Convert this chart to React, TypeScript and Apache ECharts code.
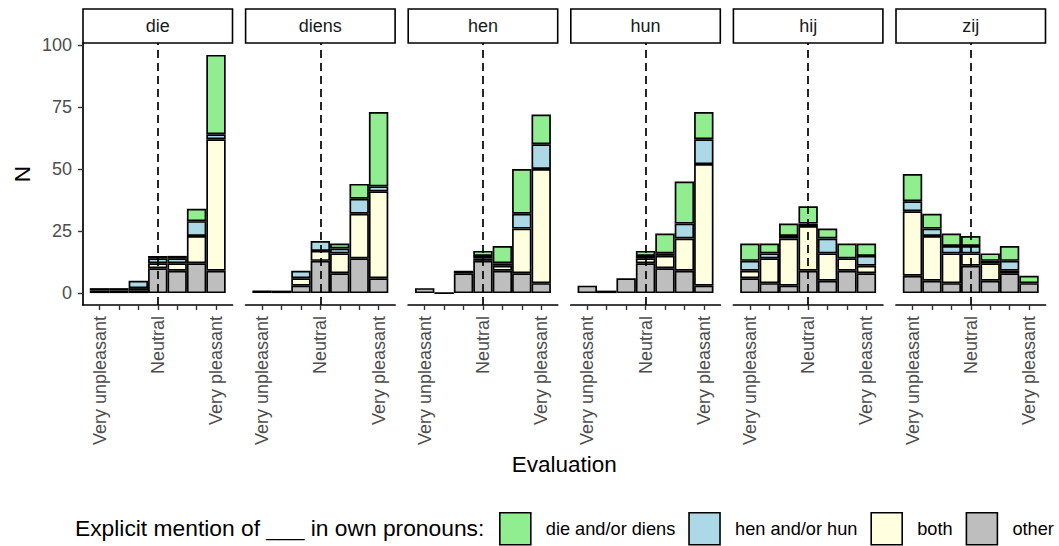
import React, { useEffect, useRef } from 'react';
import * as echarts from 'echarts';

// ---------- data ----------
const pronouns = ['die', 'diens', 'hen', 'hun', 'hij', 'zij'];
const evaluationLevels = [1, 2, 3, 4, 5, 6, 7];
const tickLabelByLevel: Record<number, string> = { 1: 'Very unpleasant', 4: 'Neutral', 7: 'Very pleasant' };
const labeledLevels = [1, 4, 7];
const neutralLevel = 4;
const yTicks = [0, 25, 50, 75, 100];

// stack order bottom -> top
const groupNames = ['other', 'both', 'hen and/or hun', 'die and/or diens'];
const legendOrder = ['die and/or diens', 'hen and/or hun', 'both', 'other'];
const groupColors = ['#BEBEBE', '#FFFFE0', '#ADD8E6', '#90EE90'];

// rows: die, diens, hen, hun, hij, zij ; columns: evaluation 1..7
const otherCounts = [
  [1, 1, 1, 10, 9, 12, 9],
  [1, 1, 3, 13, 8, 14, 6],
  [2, 0, 8, 13, 9, 8, 4],
  [3, 1, 6, 12, 10, 9, 3],
  [6, 4, 3, 9, 5, 9, 8],
  [7, 5, 4, 11, 5, 8, 4],
];
const bothCounts = [
  [0, 0, 1, 2, 3, 11, 53],
  [0, 0, 3, 4, 8, 18, 35],
  [0, 0, 0, 1, 2, 18, 46],
  [0, 0, 0, 2, 5, 13, 49],
  [3, 10, 19, 18, 11, 5, 3],
  [26, 18, 12, 5, 7, 1, 0],
];
const henHunCounts = [
  [0, 0, 3, 2, 2, 6, 2],
  [0, 0, 3, 4, 2, 6, 2],
  [0, 0, 1, 1, 1, 6, 10],
  [0, 0, 0, 1, 1, 6, 10],
  [4, 2, 1, 1, 6, 0, 4],
  [4, 3, 3, 3, 1, 4, 0],
];
const dieDiensCounts = [
  [1, 1, 0, 1, 1, 5, 32],
  [0, 0, 0, 0, 2, 6, 30],
  [0, 0, 0, 2, 7, 18, 12],
  [0, 0, 0, 2, 8, 17, 11],
  [7, 4, 5, 7, 4, 6, 5],
  [11, 6, 5, 4, 3, 6, 3],
];
const groupCounts = [otherCounts, bothCounts, henHunCounts, dieDiensCounts];

// ---------- layout ----------
const FONT = '"Liberation Sans", Arial, Helvetica, sans-serif';
const PANEL_LEFT0 = 83;
const PANEL_STEP = 162.6;
const PANEL_W = 149.5;
const PANEL_TOP = 43;
const PANEL_H = 262;
const STRIP_TOP = 9;
const STRIP_H = 34;

export default function App() {
  const ref = useRef<HTMLDivElement>(null);

  useEffect(() => {
    if (!ref.current) return;
    const chart = echarts.init(ref.current, undefined, { renderer: 'svg' });

    // ggplot-like expansion
    let maxTotal = 0;
    pronouns.forEach((_, p) => {
      evaluationLevels.forEach((_, k) => {
        const t = groupCounts.reduce((s, g) => s + g[p][k], 0);
        if (t > maxTotal) maxTotal = t;
      });
    });
    const yPad = maxTotal * 0.05;
    const xLo = evaluationLevels[0] - 0.5;
    const xHi = evaluationLevels[evaluationLevels.length - 1] + 0.5;
    const xPad = (xHi - xLo) * 0.05;

    const grids: any[] = [];
    const xAxes: any[] = [];
    const yAxes: any[] = [];
    const series: any[] = [];
    const graphics: any[] = [];

    pronouns.forEach((pr, p) => {
      const left = PANEL_LEFT0 + p * PANEL_STEP;
      grids.push({ left, top: PANEL_TOP, width: PANEL_W, height: PANEL_H, containLabel: false, outerBoundsMode: 'none' });
      xAxes.push({
        type: 'value',
        gridIndex: p,
        min: xLo - xPad,
        max: xHi + xPad,
        splitLine: { show: false },
        axisLine: { show: true, onZero: false, lineStyle: { color: '#000', width: 1.7 } },
        axisTick: { show: true, length: 5, customValues: evaluationLevels, lineStyle: { color: '#333', width: 1.4 } },
        axisLabel: {
          show: true,
          customValues: labeledLevels,
          rotate: 90,
          margin: 11,
          fontSize: 18,
          fontFamily: FONT,
          color: '#4D4D4D',
          formatter: (v: number) => tickLabelByLevel[Math.round(v)] || '',
        },
      });
      yAxes.push({
        type: 'value',
        gridIndex: p,
        min: -yPad,
        max: maxTotal + yPad,
        splitLine: { show: false },
        axisLine: { show: p === 0, onZero: false, lineStyle: { color: '#000', width: 1.7 } },
        axisTick: { show: p === 0, length: 5, customValues: yTicks, lineStyle: { color: '#333', width: 1.4 } },
        axisLabel: {
          show: p === 0,
          customValues: yTicks,
          margin: 11,
          fontSize: 18,
          fontFamily: FONT,
          color: '#4D4D4D',
        },
      });

      groupNames.forEach((gn, g) => {
        const s: any = {
          type: 'bar',
          name: gn,
          xAxisIndex: p,
          yAxisIndex: p,
          stack: 'stack' + p,
          barWidth: '100%',
          // count first so that the stack is computed on the count (y) dimension
          encode: { x: 1, y: 0 },
          itemStyle: { color: groupColors[g], borderColor: '#000', borderWidth: 1.7 },
          emphasis: { disabled: true },
          data: evaluationLevels.map((lv, k) => {
            const v = groupCounts[g][p][k];
            // a zero count at the base still draws its outline (as in the original)
            return [g > 0 && v === 0 ? null : v, lv];
          }),
        };
        if (g === groupNames.length - 1) {
          s.markLine = {
            silent: true,
            symbol: ['none', 'none'],
            label: { show: false },
            lineStyle: { color: '#000', width: 1.7, type: [8, 5] },
            data: [{ xAxis: neutralLevel }],
          };
        }
        series.push(s);
      });

      // strip
      graphics.push({
        type: 'rect',
        shape: { x: left, y: STRIP_TOP, width: PANEL_W, height: STRIP_H },
        style: { fill: '#fff', stroke: '#000', lineWidth: 1.6 },
      });
      graphics.push({
        type: 'text',
        x: left + PANEL_W / 2,
        y: STRIP_TOP + STRIP_H / 2,
        style: { text: pr, fontSize: 18, fontFamily: FONT, fill: '#1A1A1A', align: 'center', verticalAlign: 'middle' },
      });
    });

    // axis titles
    graphics.push({
      type: 'text',
      x: PANEL_LEFT0 + (5 * PANEL_STEP + PANEL_W) / 2,
      y: 464,
      style: { text: 'Evaluation', fontSize: 22.5, fontFamily: FONT, fill: '#000', align: 'center', verticalAlign: 'middle' },
    });
    graphics.push({
      type: 'text',
      x: 22,
      y: PANEL_TOP + PANEL_H / 2,
      rotation: Math.PI / 2,
      style: { text: 'N', fontSize: 22.5, fontFamily: FONT, fill: '#000', align: 'center', verticalAlign: 'middle' },
    });
    graphics.push({
      type: 'text',
      x: 75,
      y: 528,
      style: { text: 'Explicit mention of ___ in own pronouns:', fontSize: 22.8, fontFamily: FONT, fill: '#000', align: 'left', verticalAlign: 'middle' },
    });

    chart.setOption({
      animation: false,
      backgroundColor: '#fff',
      grid: grids,
      xAxis: xAxes,
      yAxis: yAxes,
      series,
      graphic: graphics,
      legend: {
        data: legendOrder,
        left: 499,
        top: 512,
        padding: 0,
        icon: 'rect',
        itemWidth: 31,
        itemHeight: 32,
        itemGap: 13,
        selectedMode: false,
        itemStyle: { borderColor: '#000', borderWidth: 1.6 },
        textStyle: { fontSize: 18.2, fontFamily: FONT, color: '#000', padding: [0, 0, 0, 10] },
      },
    });

    return () => chart.dispose();
  }, []);

  return (
    <div
      ref={ref}
      style={{ position: 'fixed', left: 0, top: 0, width: 1059, height: 546, background: '#fff' }}
    />
  );
}
